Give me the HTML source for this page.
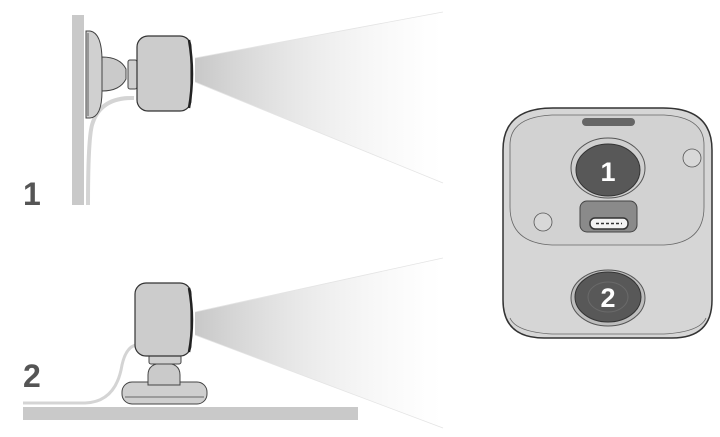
<!DOCTYPE html>
<html><head><meta charset="utf-8"><style>html,body{margin:0;padding:0;background:#fff}svg{display:block}</style></head><body>
<svg width="720" height="437" viewBox="0 0 720 437" xmlns="http://www.w3.org/2000/svg" font-family="Liberation Sans, sans-serif">
<defs>
<linearGradient id="cone" x1="0" x2="1" y1="0" y2="0">
<stop offset="0" stop-color="#c8c8c8"/><stop offset="1" stop-color="#ffffff" stop-opacity="0.3"/></linearGradient>
</defs>
<polygon points="195,58 443,12 443,183 195,82" fill="url(#cone)"/>
<line x1="195" y1="58" x2="443" y2="12" stroke="#e4e4e4" stroke-width="0.8"/>
<line x1="195" y1="82" x2="443" y2="183" stroke="#e4e4e4" stroke-width="0.8"/>
<rect x="72" y="15" width="12" height="190" fill="#c9c9c9"/>
<path d="M134,98 Q100,97 92,125 Q88,140 88,205" fill="none" stroke="#d4d4d4" stroke-width="4"/>
<path d="M86,31 h4 q12,2 12,30 v30 q0,26 -12,27 h-4 z" fill="#d0d0d0" stroke="#444" stroke-width="1"/>
<line x1="88" y1="33" x2="88" y2="116" stroke="#444" stroke-width="0.8"/>
<path d="M102,57 q18,0 24,12 v10 q-6,12 -24,12 z" fill="#cacaca" stroke="#444" stroke-width="1"/>
<rect x="128" y="60" width="9" height="29" rx="2" fill="#cfcfcf" stroke="#444"/>
<rect x="137" y="36" width="54" height="75" rx="11" fill="#cccccc" stroke="#333" stroke-width="1.2"/>
<path d="M189,40 q6,34 0,68" fill="none" stroke="#222" stroke-width="2.5"/>
<text x="23" y="205" font-size="32" font-weight="bold" fill="#555">1</text>
<polygon points="195,312 443,258 443,428 195,335" fill="url(#cone)"/>
<line x1="195" y1="312" x2="443" y2="258" stroke="#e4e4e4" stroke-width="0.8"/>
<line x1="195" y1="335" x2="443" y2="428" stroke="#e4e4e4" stroke-width="0.8"/>
<rect x="23" y="407" width="335" height="13" fill="#c9c9c9"/>
<path d="M136,345 Q126,347 122,365 Q116,402 85,403 L23,403" fill="none" stroke="#d4d4d4" stroke-width="3"/>
<rect x="122" y="382" width="85" height="22" rx="10" fill="#cfcfcf" stroke="#444"/>
<line x1="125" y1="397" x2="204" y2="397" stroke="#444" stroke-width="0.8"/>
<path d="M148,385 v-10 q0,-12 16,-12 q16,0 16,12 v10 z" fill="#cacaca" stroke="#444"/>
<rect x="149" y="355" width="32" height="9" rx="2" fill="#cfcfcf" stroke="#444"/>
<rect x="135" y="283" width="56" height="73" rx="11" fill="#cccccc" stroke="#333" stroke-width="1.2"/>
<path d="M189,288 q6,32 0,64" fill="none" stroke="#222" stroke-width="2.5"/>
<text x="23" y="387" font-size="32" font-weight="bold" fill="#555">2</text>
<path d="M503,150 q0,-42 50,-42 h110 q49,0 49,42 v150 q0,38 -40,38 h-128 q-41,0 -41,-38 z" fill="#d6d6d6" stroke="#333" stroke-width="1.5"/>
<path d="M510,318 q6,14 42,16 h112 q36,-2 42,-16" fill="none" stroke="#666" stroke-width="0.8"/>
<path d="M510,145 q0,-28 42,-30 h112 q40,2 40,30 v62 q0,36 -40,38 h-112 q-42,-2 -42,-38 z" fill="#d2d2d2" stroke="#666" stroke-width="0.8"/>
<rect x="582" y="118" width="53" height="8" rx="4" fill="#666"/>
<ellipse cx="608" cy="168" rx="37" ry="30" fill="#cfcfcf" stroke="#555"/>
<ellipse cx="608" cy="170" rx="32" ry="26" fill="#585858" stroke="#333"/>
<text x="608" y="181" font-size="27" font-weight="bold" fill="#fff" text-anchor="middle">1</text>
<circle cx="692" cy="158" r="9" fill="#d8d8d8" stroke="#555" stroke-width="0.8"/>
<circle cx="543" cy="222" r="9" fill="#d8d8d8" stroke="#555" stroke-width="0.8"/>
<rect x="580" y="201" width="57" height="31" rx="7" fill="#8a8a8a" stroke="#444"/>
<rect x="590" y="218" width="38" height="11" rx="5" fill="#f2f2f2" stroke="#333" stroke-width="1.5"/>
<line x1="596" y1="223.5" x2="622" y2="223.5" stroke="#333" stroke-width="1.5" stroke-dasharray="3,2"/>
<ellipse cx="608" cy="298" rx="37" ry="28" fill="#bdbdbd" stroke="#555"/>
<ellipse cx="608" cy="297" rx="33" ry="25" fill="#585858" stroke="#333"/>
<ellipse cx="608" cy="297" rx="20" ry="15" fill="none" stroke="#6a6a6a"/>
<text x="608" y="307" font-size="27" font-weight="bold" fill="#fff" text-anchor="middle">2</text>
</svg>
</body></html>
